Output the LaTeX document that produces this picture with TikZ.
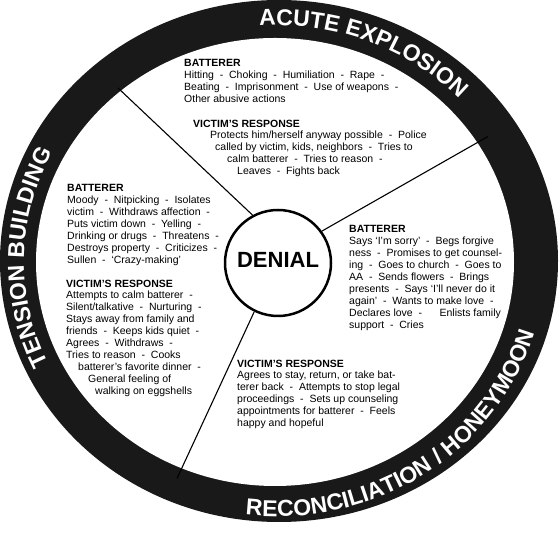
\documentclass[tikz,border=0pt]{standalone}
\usepackage{fontspec}
\setmainfont{Liberation Sans}
\usetikzlibrary{decorations.text}
\newcommand{\dsh}{\ \ -\ \ }
\newcommand{\ringfont}{\fontsize{23}{23}\selectfont\bfseries}

\begin{document}
\begin{tikzpicture}[x=1pt, y=1pt,
    block/.style={anchor=north west, inner sep=0pt, align=left,
                  font=\fontsize{10.5}{11.9}\selectfont},
    spoke/.style={line width=1.1pt},
    ringtext/.style={decorate, decoration={text along path,
                     text align=center, text color=white}}]
  \useasboundingbox (0,0) rectangle (560,540);
  \fill[black!90] (279,279) ellipse[x radius=279pt, y radius=261pt];
  \fill[white] (275,278) ellipse[x radius=239pt, y radius=224pt];
  \coordinate (mid) at (277,278.5);
  \path[ringtext, decoration={text={|\ringfont|ACUTE EXPLOSION}}]
    ([shift={(128:252pt and 236pt)}]mid) arc[start angle=128, end angle=8,
    x radius=252pt, y radius=236pt];
  \path[ringtext, decoration={text={|\ringfont|TENSION BUILDING}}]
    ([shift={(239:253pt and 236pt)}]mid) arc[start angle=239, end angle=119,
    x radius=253pt, y radius=236pt];
  \path[ringtext, decoration={text={|\ringfont|RECONCILIATION / HONEYMOON}}]
    ([shift={(244:268pt and 255pt)}]mid) arc[start angle=244, end angle=364,
    x radius=268pt, y radius=255pt];

  \node[circle, draw, line width=2.5pt, minimum size=106pt, inner sep=0pt,
        text depth=7pt, font=\fontsize{22}{22}\selectfont\bfseries]
        (denial) at (278,277) {DENIAL};
  \coordinate (cut1) at (118,452);
  \coordinate (cut2) at (488,403.5);
  \coordinate (cut3) at (177,61.5);
  \draw[spoke] (denial.118) -- (cut1);
  \draw[spoke] (denial.36) -- (cut2);
  \draw[spoke] (denial.244) -- (cut3);

  \node[block] (acuteB) at (184,480.5) {{\bfseries BATTERER}\\
    Hitting\dsh Choking\dsh Humiliation\dsh Rape\dsh\\
    Beating\dsh Imprisonment\dsh Use of weapons\dsh\\
    Other abusive actions};
  \node[block] (acuteV) at (193,420.5) {{\bfseries VICTIM'S RESPONSE}\\
    \hspace*{17pt}Protects him/herself anyway possible\dsh Police\\
    \hspace*{22pt}called by victim, kids, neighbors\dsh Tries to\\
    \hspace*{34pt}calm batterer\dsh Tries to reason\dsh\\
    \hspace*{44pt}Leaves\dsh Fights back};
  \node[block] (tensionB) at (67,355.5) {{\bfseries BATTERER}\\
    Moody\dsh Nitpicking\dsh Isolates\\
    victim\dsh Withdraws affection\dsh\\
    Puts victim down\dsh Yelling\dsh\\
    Drinking or drugs\dsh Threatens\dsh\\
    Destroys property\dsh Criticizes\dsh\\
    Sullen\dsh `Crazy-making'};
  \node[block] (tensionV) at (66,260.5) {{\bfseries VICTIM'S RESPONSE}\\
    Attempts to calm batterer\dsh\\
    Silent/talkative\dsh Nurturing\dsh\\
    Stays away from family and\\
    friends\dsh Keeps kids quiet\dsh\\
    Agrees\dsh Withdraws\dsh\\
    Tries to reason\dsh Cooks\\
    \hspace*{12pt}batterer's favorite dinner\dsh\\
    \hspace*{22pt}General feeling of\\
    \hspace*{29pt}walking on eggshells};
  \node[block] (honeyB) at (349,314.5) {{\bfseries BATTERER}\\
    Says `I'm sorry'\dsh Begs forgive\\
    ness\dsh Promises to get counsel-\\
    ing\dsh Goes to church\dsh Goes to\\
    AA\dsh Sends flowers\dsh Brings\\
    presents\dsh Says `I'll never do it\\
    again'\dsh Wants to make love\dsh\\
    Declares love\dsh\ \ \ \ Enlists family\\
    support\dsh Cries};
  \node[block] (honeyV) at (237,180.5) {{\bfseries VICTIM'S RESPONSE}\\
    Agrees to stay, return, or take bat-\\
    terer back\dsh Attempts to stop legal\\
    proceedings\dsh Sets up counseling\\
    appointments for batterer\dsh Feels\\
    happy and hopeful};
\end{tikzpicture}
\end{document}
